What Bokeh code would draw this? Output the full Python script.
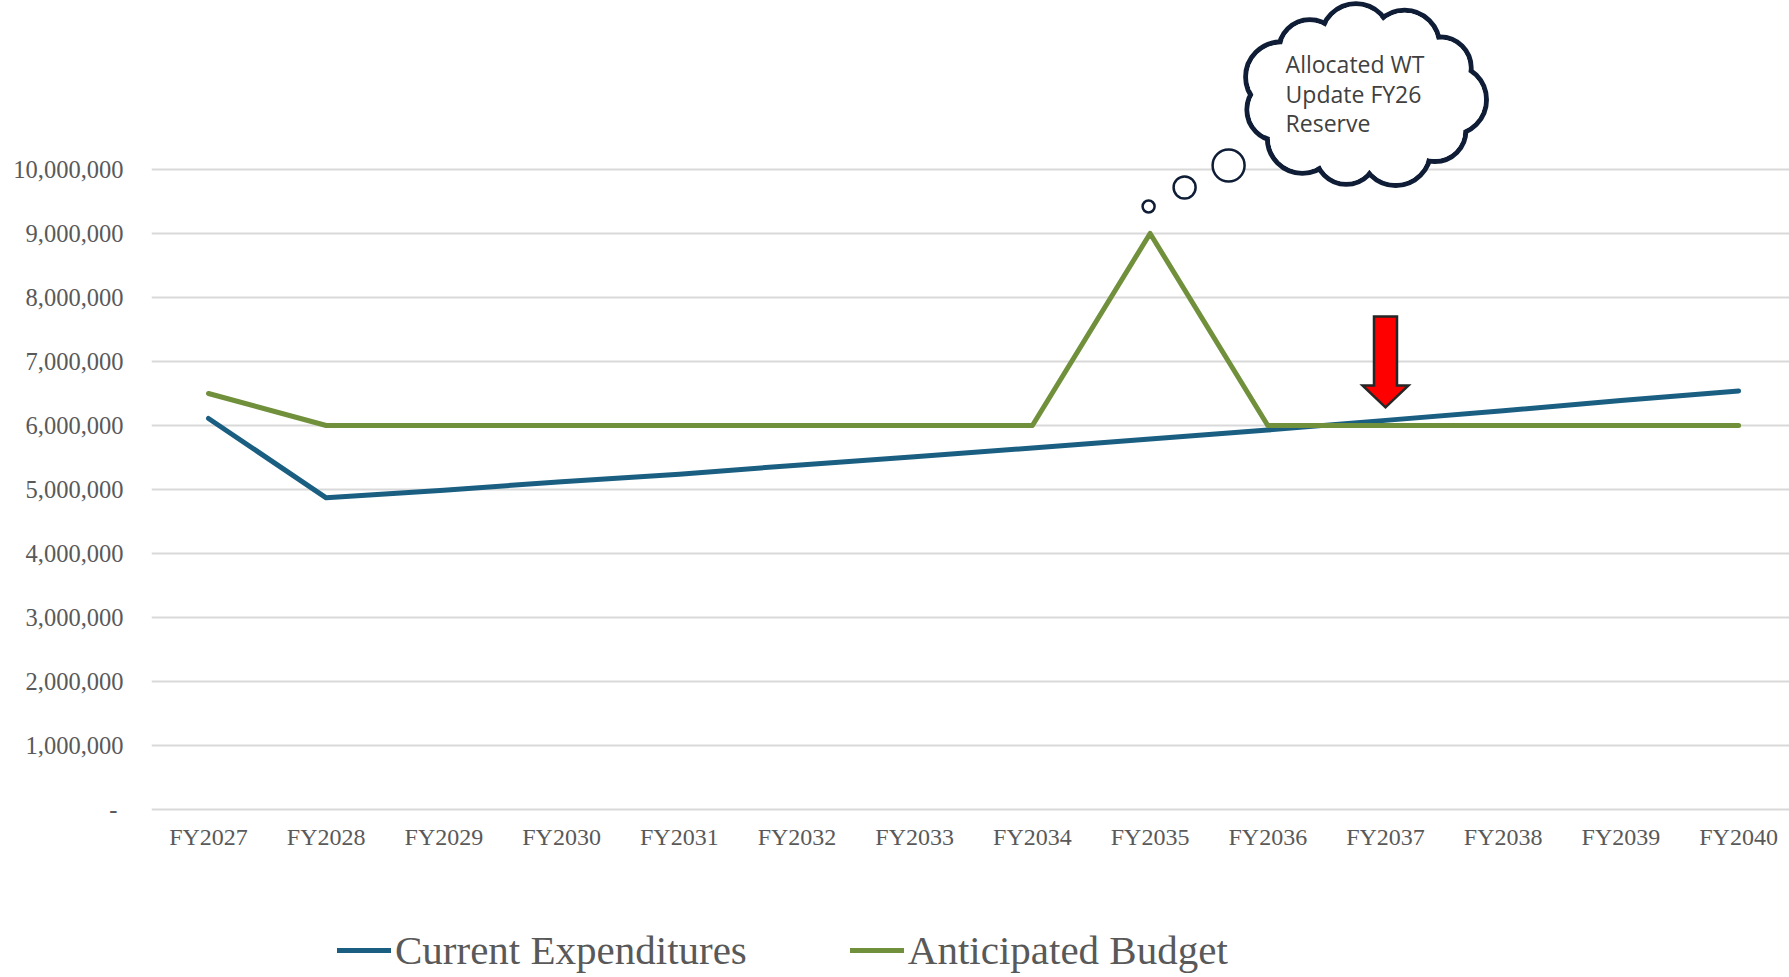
import math
from bokeh.plotting import figure
from bokeh.models import FixedTicker, Legend, LegendItem, ColumnDataSource, Range1d
from bokeh.core.properties import value
from bokeh.embed import file_html
from bokeh.resources import INLINE

# ---------------- data ----------------
categories = ["FY2027", "FY2028", "FY2029", "FY2030", "FY2031", "FY2032", "FY2033",
              "FY2034", "FY2035", "FY2036", "FY2037", "FY2038", "FY2039", "FY2040"]
current_expenditures = [6110000, 4870000, 4990000, 5120000, 5240000, 5380000, 5510000,
                        5650000, 5790000, 5930000, 6080000, 6230000, 6390000, 6540000]
anticipated_budget = [6500000, 6000000, 6000000, 6000000, 6000000, 6000000, 6000000,
                      6000000, 9000000, 6000000, 6000000, 6000000, 6000000, 6000000]
y_ticks = [0, 1000000, 2000000, 3000000, 4000000, 5000000, 6000000, 7000000,
           8000000, 9000000, 10000000]
y_tick_labels = ["-\u00a0", "1,000,000", "2,000,000", "3,000,000", "4,000,000", "5,000,000",
                 "6,000,000", "7,000,000", "8,000,000", "9,000,000", "10,000,000"]
series_names = ["Current Expenditures", "Anticipated Budget"]
note_lines = ["Allocated WT", "Update FY26", "Reserve"]

# ---------------- geometry ----------------
FIG_W, FIG_H = 1789, 977
BORDER_L = 151
FRAME_W = FIG_W - BORDER_L
FRAME_H = FIG_H
ZERO_PX = 809            # pixel row of the zero line
PX_PER_CAT = 117.7
PX_PER_VAL = 64 / 1e6
X0 = -57 / PX_PER_CAT
X1 = X0 + FRAME_W / PX_PER_CAT
Y1 = ZERO_PX / PX_PER_VAL
Y0 = Y1 - FRAME_H / PX_PER_VAL


def dx(px):
    return px / PX_PER_CAT


def dy(px):
    return px / PX_PER_VAL


BLUE = "#1A5F82"
GREEN = "#71903C"
GRID = "#D9D9D9"
LABEL = "#595959"
INK = "#0F1E36"

x = list(range(len(categories)))

p = figure(width=FIG_W, height=FIG_H, x_range=Range1d(X0, X1), y_range=Range1d(Y0, Y1),
           output_backend="svg", toolbar_location=None,
           min_border_left=BORDER_L, min_border_right=0, min_border_top=0,
           min_border_bottom=0)
p.outline_line_color = None
p.background_fill_color = "white"
p.border_fill_color = "white"

p.xgrid.visible = False
p.ygrid.grid_line_color = GRID
p.ygrid.grid_line_width = 2

p.yaxis.ticker = FixedTicker(ticks=y_ticks)
p.yaxis.major_label_overrides = {t: s for t, s in zip(y_ticks, y_tick_labels)}
p.xaxis.ticker = FixedTicker(ticks=x)
p.xaxis.major_label_overrides = {i: c for i, c in zip(x, categories)}
p.xaxis.fixed_location = 0
for ax in (p.xaxis[0], p.yaxis[0]):
    ax.axis_line_color = None
    ax.major_tick_line_color = None
    ax.minor_tick_line_color = None
    ax.major_label_text_font = "Liberation Serif"
    ax.major_label_text_font_size = "24px"
    ax.major_label_text_color = LABEL
p.yaxis.major_label_text_font_size = "24.5px"
p.yaxis.major_label_standoff = 22
p.xaxis.major_label_standoff = 8

src = ColumnDataSource(dict(x=x, ce=current_expenditures, ab=anticipated_budget))
r_ce = p.line("x", "ce", source=src, line_color=BLUE, line_width=5,
              line_cap="round", line_join="round")
r_ab = p.line("x", "ab", source=src, line_color=GREEN, line_width=5,
              line_cap="round", line_join="round")

# ---------------- thought cloud annotation ----------------
peak_i = anticipated_budget.index(max(anticipated_budget))
peak_v = max(anticipated_budget)

bub = ColumnDataSource(dict(
    x=[peak_i + dx(-1.5), peak_i + dx(34.5), peak_i + dx(78.5)],
    y=[peak_v + dy(27), peak_v + dy(46), peak_v + dy(68)],
    s=[12, 22, 32],
))
p.scatter("x", "y", size="s", source=bub, marker="circle", fill_color="white",
          line_color=INK, line_width=2.5)

cx = peak_i + dx(213.5)
cy = peak_v + dy(137)
n_b = 11
rx, ry, rb = 88, 58, 32
bx, by, bs, bs2 = [], [], [], []
for k in range(n_b):
    a = math.radians(95 + k * 360 / n_b)
    r_here = rb + (3 if k % 2 == 0 else -1)
    bx.append(cx + dx(rx * math.cos(a)))
    by.append(cy + dy(ry * math.sin(a)))
    bs.append(2 * r_here)
    bs2.append(2 * r_here - 5)
bumps = ColumnDataSource(dict(x=bx, y=by, s=bs, s2=bs2))
p.scatter("x", "y", size="s", source=bumps, marker="circle", fill_color="white",
          line_color=INK, line_width=5)
p.ellipse(x=[cx], y=[cy], width=[dx(2 * rx)], height=[dy(2 * ry)],
          fill_color="white", line_color=None)
p.scatter("x", "y", size="s2", source=bumps, marker="circle", fill_color="white",
          line_color=None)

txt = ColumnDataSource(dict(
    x=[cx + dx(-78)] * 3,
    y=[cy + dy(32.5), cy + dy(2.5), cy - dy(26.5)],
    t=note_lines,
))
p.text("x", "y", text="t", source=txt, text_font=value("Open Sans"),
       text_font_size="23px", text_color="#404040", text_align="left",
       text_baseline="middle")

# ---------------- red arrow ----------------
ai = categories.index("FY2037")
tip = current_expenditures[ai] + dy(13)
ax_ = [ai - dx(11.5), ai + dx(11.5), ai + dx(11.5), ai + dx(23), ai,
       ai - dx(23), ai - dx(11.5)]
ay_ = [tip + dy(91), tip + dy(91), tip + dy(22), tip + dy(22), tip,
       tip + dy(22), tip + dy(22)]
p.patch(ax_, ay_, fill_color="#FF0000", line_color="#262626", line_width=2.5,
        line_join="miter")

# ---------------- legend ----------------
legend = Legend(items=[LegendItem(label=series_names[0], renderers=[r_ce]),
                       LegendItem(label=series_names[1], renderers=[r_ab])],
                orientation="horizontal", location=(186, 3),
                label_text_font="Liberation Serif", label_text_font_size="41px",
                label_text_color=LABEL, glyph_width=54, glyph_height=40,
                label_standoff=4, spacing=103, padding=0, margin=0,
                border_line_color=None, background_fill_alpha=0)
p.add_layout(legend, "center")

open("out.html", "w").write(file_html(p, INLINE))
